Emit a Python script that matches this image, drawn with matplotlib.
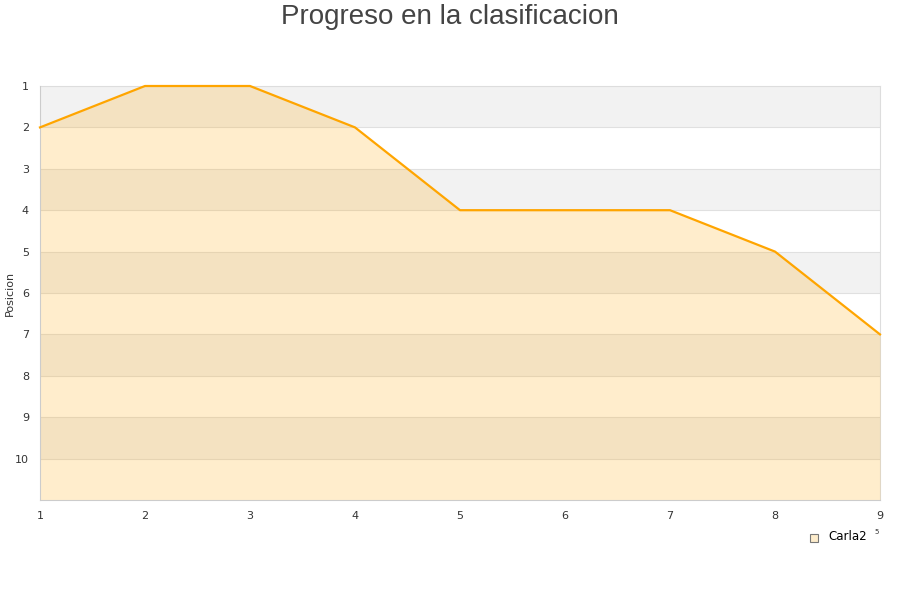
import matplotlib
matplotlib.use("Agg")
import matplotlib.pyplot as plt
from matplotlib.patches import Rectangle

jornadas = [1, 2, 3, 4, 5, 6, 7, 8, 9]
posiciones = [2, 1, 1, 2, 4, 4, 4, 5, 7]
yticks = [1, 2, 3, 4, 5, 6, 7, 8, 9, 10]
serie = "Carla2"

fig = plt.figure(figsize=(9, 6), dpi=100)
ax = fig.add_axes([40/900, 1-500/600, 840/900, 414/600])
ax.set_xlim(1, 9)
ax.set_ylim(11, 1)

for y0 in [1, 3, 5, 7, 9]:
    ax.axhspan(y0, y0 + 1, color="#f2f2f2", zorder=0, lw=0)
for y in range(2, 11):
    ax.axhline(y, color="#e0e0e0", lw=0.8, zorder=0.5)

ax.fill_between(jornadas, posiciones, 11, color="orange", alpha=0.2, lw=0, zorder=1)
ax.plot(jornadas, posiciones, color="orange", lw=1.6, zorder=3, clip_on=False)

ax.set_xticks(jornadas)
ax.set_yticks(yticks)
ax.tick_params(length=0, labelsize=8, colors="#333333", pad=8)
for s in ["top", "right"]:
    ax.spines[s].set_visible(False)
for s in ["left", "bottom"]:
    ax.spines[s].set_color("#cccccc")
ax.plot([1, 9], [1, 1], color="#dddddd", lw=0.8, zorder=0.6, clip_on=False)
ax.plot([9, 9], [1, 11], color="#dddddd", lw=0.8, zorder=0.6, clip_on=False)

fig.text(10/900, 1-293/600, "Posicion", fontsize=8, color="#333333",
         rotation=90, ha="center", va="center")
fig.text(0.5, 1-17/600, "Progreso en la clasificacion", ha="center", va="center",
         fontsize=20, color="#444444", family="Liberation Sans")

fig.patches.append(Rectangle((810/900, 1-542/600), 8/900, 8/600, transform=fig.transFigure,
                             facecolor="#fdeccb", edgecolor="#777777", lw=0.8))
fig.text(828/900, 1-537/600, serie, fontsize=8.5, color="#000000", va="center")
fig.text(874/900, 1-532/600, "5", fontsize=5, color="#333333", va="center")

fig.savefig("out.png", dpi=100, facecolor="white")
